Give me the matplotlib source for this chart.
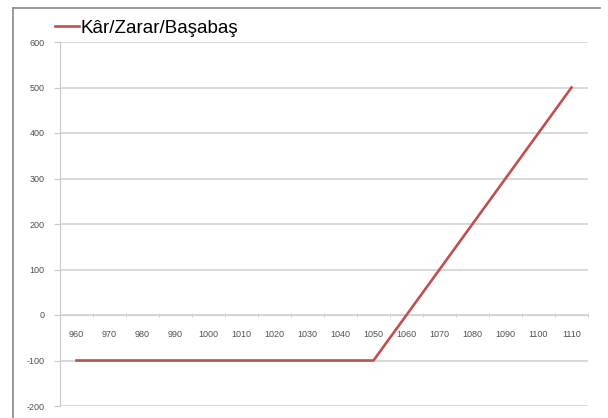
import numpy as np
import matplotlib.pyplot as plt
from matplotlib.lines import Line2D

# veriler
fiyat = [960, 970, 980, 990, 1000, 1010, 1020, 1030, 1040, 1050,
         1060, 1070, 1080, 1090, 1100, 1110]
kar_zarar = [-100, -100, -100, -100, -100, -100, -100, -100, -100, -100,
             0, 100, 200, 300, 400, 500]
y_ticks = [-200, -100, 0, 100, 200, 300, 400, 500, 600]

plt.rcParams['font.family'] = ['Liberation Sans', 'DejaVu Sans']

fig = plt.figure(figsize=(6.08, 4.18), dpi=100)
ax = fig.add_axes([60/608, 1-406/418, 528/608, 364/418])

x = np.arange(len(fiyat))
ax.plot(x, kar_zarar, color='#c0504d', lw=1.9, label='Kâr/Zarar/Başabaş', zorder=3)

ax.set_xlim(-0.5, len(fiyat) - 0.5)
ax.set_ylim(-200, 600)
ax.set_yticks(y_ticks)
ax.set_yticklabels([str(v) for v in y_ticks], fontsize=6.5, color='#505050')
ax.yaxis.grid(True, color='#d0d0d0', lw=1.1)
ax.set_axisbelow(True)

# kategori ekseni sifir cizgisinde
ax.spines['bottom'].set_position(('data', 0))
ax.spines['bottom'].set_color('#d0d0d0')
ax.spines['left'].set_color('#c8c8c8')
ax.spines['top'].set_visible(False)
ax.spines['right'].set_visible(False)
ax.set_xticks(x)
ax.set_xticklabels([str(f) for f in fiyat], fontsize=6.5, color='#505050')
ax.tick_params(axis='x', length=0, pad=11)
ax.set_xticks(np.arange(-0.5, len(fiyat)), minor=True)
ax.tick_params(axis='x', which='minor', length=3, color='#c8c8c8', direction='inout')
ax.tick_params(axis='y', length=4, color='#c8c8c8', pad=7)

leg = ax.legend(loc='lower left', bbox_to_anchor=(-0.01, 1.015), frameon=False,
                fontsize=13.5, handlelength=1.3, handletextpad=0.1, borderaxespad=0,
                borderpad=0)

# cerceve
fig.add_artist(Line2D([13/608, 600/608], [1-8/418, 1-8/418], color='#888888', lw=1.2))
fig.add_artist(Line2D([13/608, 13/608], [0, 1-8/418], color='#888888', lw=1.2))

fig.savefig('out.png', dpi=100)
